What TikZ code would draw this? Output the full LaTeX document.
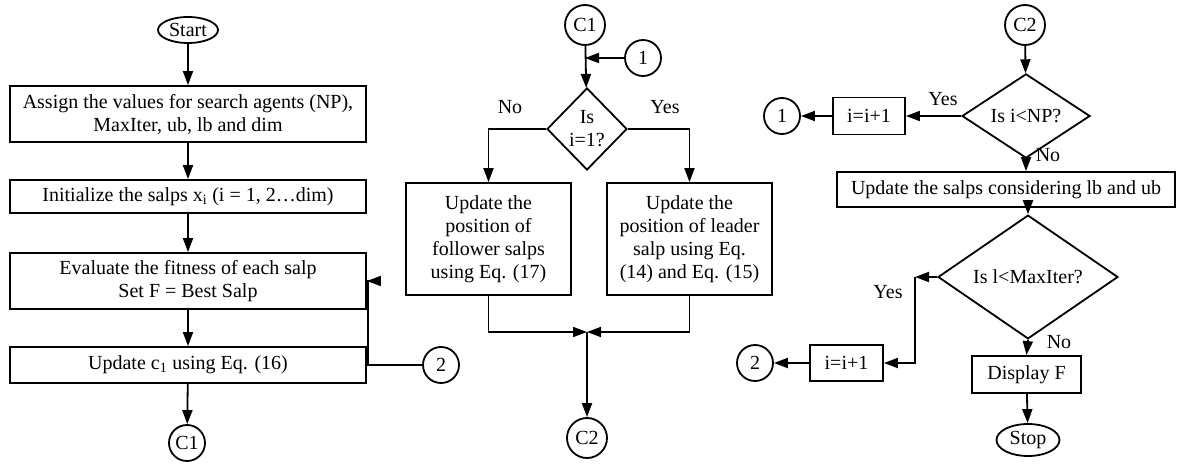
\documentclass[tikz,border=0pt]{standalone}
\usepackage{fontspec}
\setmainfont{Liberation Serif}
\usetikzlibrary{shapes.geometric,arrows.meta}
\tikzset{
  base/.style={draw=black, line width=1.8pt, font=\fontsize{20}{23}\selectfont, align=center, inner sep=0pt},
  procbox/.style={base, rectangle},
  termnode/.style={base, ellipse},
  conn/.style={base, circle, minimum size=36pt},
  decide/.style={base, diamond},
  flow/.style={line width=1.8pt, -{Triangle[length=14pt,width=10pt]}},
  lbl/.style={font=\fontsize{20}{23}\selectfont, inner sep=0pt}
}
\begin{document}
\begin{tikzpicture}[x=1pt,y=-1pt]
\useasboundingbox (0,0) rectangle (1179,468);

% ---- left column: initialisation ----
\node[termnode, minimum width=60pt, minimum height=26pt] (start) at (188,30) {Start};
\node[procbox, minimum width=356pt, minimum height=56pt] (assign) at (188,114)
  {Assign the values for search agents (NP),\\MaxIter, ub, lb and dim};
\node[procbox, minimum width=356pt, minimum height=33pt] (init) at (188,196.5)
  {Initialize the salps x\textsubscript{i} (i = 1, 2…dim)};
\node[procbox, minimum width=356pt, minimum height=56pt] (eval) at (188,281)
  {Evaluate the fitness of each salp\\Set F = Best Salp};
\node[procbox, minimum width=356pt, minimum height=36pt] (cupd) at (188,365)
  {Update c\textsubscript{1} using Eq. (16)};
\node[conn] (cA) at (187,443) {C1};
\node[conn] (twoA) at (441,365) {2};

\draw[flow] (start) -- (assign);
\draw[flow] (assign) -- (init);
\draw[flow] (init) -- (eval);
\draw[flow] (eval) -- (cupd);
\draw[flow] (cupd) -- (cA);
\draw[flow] (twoA.west) -- ++(-54,0) |- (eval.east);

% ---- middle column: position update ----
\node[conn, minimum size=40pt] (cB) at (585,25) {C1};
\node[conn] (oneA) at (643,58) {1};
\node[decide, minimum width=80pt, minimum height=82pt] (isone) at (587,129) {Is\\i=1?};
\node[procbox, minimum width=165pt, minimum height=112pt] (follow) at (488.5,239)
  {Update the\\position of\\follower salps\\using Eq. (17)};
\node[procbox, minimum width=165pt, minimum height=112pt] (leader) at (689.5,239)
  {Update the\\position of leader\\salp using Eq.\\(14) and Eq. (15)};
\coordinate (merge) at (587,332);
\node[conn, minimum size=40pt] (cC) at (587,438) {C2};

\draw[flow] (cB) -- (isone);
\draw[flow] (oneA.west) -- (oneA.west -| cB.south);
\draw[flow] (isone.west) -| (follow.north);
\draw[flow] (isone.east) -| (leader.north);
\node[lbl] (noA) at (510,107) {No};
\node[lbl] (yesA) at (665,107) {Yes};
\draw[flow] (follow.south) |- (merge);
\draw[flow] (leader.south) |- (merge);
\draw[flow] (merge) -- (cC);

% ---- right column: loop control ----
\node[conn, minimum size=40pt] (cD) at (1025,25) {C2};
\node[decide, minimum width=128pt, minimum height=54pt] (isnp) at (1026,116) {Is i<NP?};
\node[procbox, minimum width=72pt, minimum height=37pt] (incA) at (869,116) {i=i+1};
\node[conn] (oneB) at (782,116) {1};
\node[procbox, minimum width=338pt, minimum height=35pt] (bounds) at (1006,189.5)
  {Update the salps considering lb and ub};
\node[decide, minimum width=180pt, minimum height=80pt] (isiter) at (1028,277) {Is l<MaxIter?};
\coordinate (bend) at (915,277);
\node[procbox, minimum width=73pt, minimum height=36pt] (incB) at (846.5,363) {i=i+1};
\node[conn] (twoB) at (755,363) {2};
\node[procbox, minimum width=109pt, minimum height=37pt] (show) at (1026.5,374.5) {Display F};
\node[termnode, minimum width=63pt, minimum height=32pt] (stop) at (1028,440) {Stop};

\draw[flow] (cD) -- (isnp);
\draw[flow] (isnp.west) -- (incA.east);
\draw[flow] (incA.west) -- (oneB.east);
\node[lbl] (yesB) at (943,99) {Yes};
\draw[flow] (isnp.south) -- (isnp.south |- bounds.north);
\node[lbl] (noB) at (1048,155) {No};
\draw[flow] (isiter.north |- bounds.south) -- (isiter.north);
\draw[flow] (isiter.west) -- (bend);
\draw[flow] (bend) |- (incB.east);
\node[lbl] (yesC) at (888,292) {Yes};
\draw[flow] (incB.west) -- (twoB.east);
\draw[flow] (isiter.south) -- (show.north);
\node[lbl] (noC) at (1059,342) {No};
\draw[flow] (show) -- (stop);
\end{tikzpicture}
\end{document}
